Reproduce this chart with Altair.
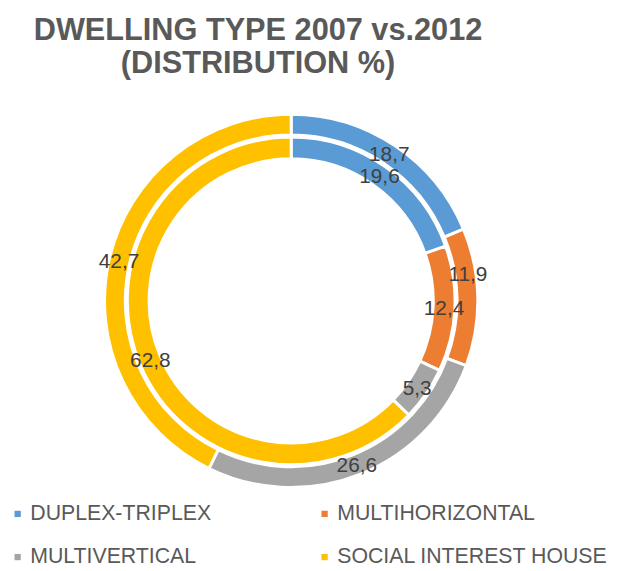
import altair as alt
import pandas as pd

categories = ["DUPLEX-TRIPLEX", "MULTIHORIZONTAL", "MULTIVERTICAL", "SOCIAL INTEREST HOUSE"]
colors = ["#5B9BD5", "#ED7D31", "#A5A5A5", "#FFC000"]
outer_values = [18.7, 11.9, 26.6, 42.7]
inner_values = [19.6, 12.4, 5.3, 62.8]
title_lines = ["DWELLING TYPE 2007 vs.2012", "(DISTRIBUTION %)"]


def frame(vals):
    return pd.DataFrame({
        "category": categories,
        "value": vals,
        "idx": list(range(len(categories))),
        "label": [f"{v:.1f}".replace(".", ",") for v in vals],
    })


outer_df = frame(outer_values)
inner_df = frame(inner_values)

CX, CY = 283, 213
FONT = "Liberation Sans"

color = alt.Color(
    "category:N",
    scale=alt.Scale(domain=categories, range=colors),
    sort=categories,
    legend=alt.Legend(
        title=None,
        orient="none",
        direction="horizontal",
        legendX=-4,
        legendY=417,
        columns=2,
        symbolType="square",
        symbolSize=40,
        symbolStrokeWidth=0,
        labelFont=FONT,
        labelFontSize=21.5,
        labelColor="#595959",
        labelLimit=400,
        labelOffset=2,
        columnPadding=103,
        rowPadding=21,
    ),
)


def ring(df, r_out, r_in, r_text, dy_expr):
    base = alt.Chart(df).encode(
        theta=alt.Theta("value:Q", stack=True),
        order=alt.Order("idx:Q"),
        x=alt.value(CX),
        y=alt.value(CY),
    )
    arc = base.mark_arc(outerRadius=r_out, innerRadius=r_in, stroke="white", strokeWidth=3).encode(color=color)
    txt = base.mark_text(
        radius=r_text, font=FONT, fontSize=21, color="#404040", dy=alt.ExprRef(dy_expr)
    ).encode(text="label:N")
    return arc, txt


oa, ot = ring(outer_df, 188.5, 167.5, 178.5, "datum.category == 'MULTIHORIZONTAL' ? -22 : 1")
ia, it = ring(inner_df, 165.5, 143.5, 154.5, "1")

chart = (
    alt.layer(oa, ia, ot, it)
    .resolve_scale(theta="independent")
    .properties(
        width=603,
        height=483,
        padding={"left": 3, "top": 80, "right": 3, "bottom": 0},
        autosize=alt.AutoSizeParams(type="none"),
        background="white",
        title=alt.TitleParams(
            text=title_lines,
            font=FONT,
            fontSize=31,
            fontWeight="bold",
            color="#595959",
            anchor="middle",
            frame="group",
            dx=-52,
            offset=10,
            lineHeight=33,
        ),
    )
    .configure_view(stroke=None)
)

chart.save("out.html", embed_options={"renderer": "svg", "actions": False})
